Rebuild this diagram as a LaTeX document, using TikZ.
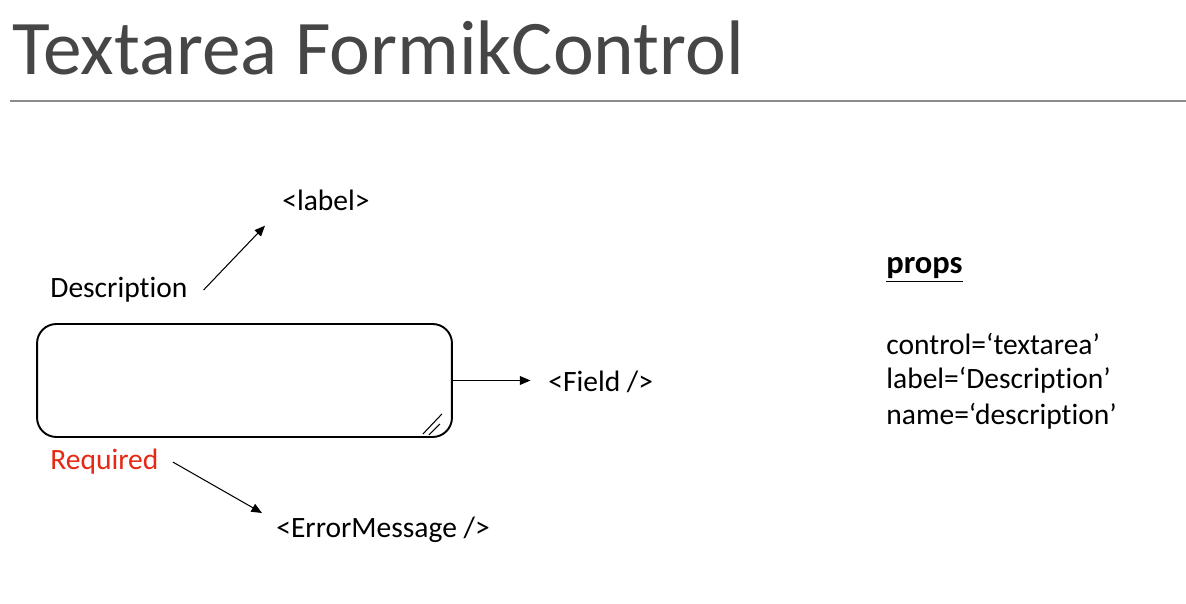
\documentclass[tikz,border=0pt]{standalone}
\usepackage{fontspec}
\setmainfont{Carlito}[Ligatures=NoCommon]
\usetikzlibrary{arrows.meta}

\definecolor{titlegray}{RGB}{70,70,70}
\definecolor{rulegray}{RGB}{140,140,140}
\definecolor{reqred}{RGB}{230,40,20}

\begin{document}
\begin{tikzpicture}[
        x=0.02cm, y=-0.02cm,
        txt/.style={anchor=west, inner sep=0pt, font=\fontsize{16.8}{20}\selectfont},
        field/.style={rectangle, draw, line width=1.1pt, rounded corners=11pt, minimum width=8.3cm, minimum height=2.26cm},
        arrow/.style={-{Triangle[length=6pt,width=5pt]}, semithick}
    ]
        \useasboundingbox (0,0) rectangle (1186,604);

        % Title
        \node[anchor=base west, inner sep=0pt, text=titlegray, font=\fontsize{44}{48}\selectfont] (title) at (12,75) {Textarea FormikControl};
        \coordinate (ruleL) at (10,101);
        \coordinate (ruleR) at (1186,101);
        \draw[rulegray, thick] (ruleL) -- (ruleR);

        % Textarea
        \node[field] (box) at (244.5,380.5) {};
        \draw[semithick] ([shift={(-30,-4)}]box.south east) -- ([shift={(-11,-24)}]box.south east);
        \draw[semithick] ([shift={(-24,-3)}]box.south east) -- ([shift={(-13,-14)}]box.south east);

        % Labels
        \node[txt] (desc) at (50,290) {Description};
        \node[txt] (label) at (282,200) {<label>};
        \node[txt] (fieldtag) at (548,382) {<Field />};
        \node[txt, text=reqred] (req) at (50,462) {Required};
        \node[txt] (err) at (276,530) {<ErrorMessage />};

        % Props
        \node[txt, font=\fontsize{18.5}{22}\selectfont\bfseries] (props) at (886,270) {\underline{props}};
        \node[txt] (p1) at (886,344) {control=‘textarea’};
        \node[txt] (p2) at (886,380) {label=‘Description’};
        \node[txt] (p3) at (886,416) {name=‘description’};

        % Arrows
        \draw[arrow] ([xshift=15\pgflinewidth]desc.east) -- ([shift={(-17,15)}]label.south west);
        \draw[arrow] (box.east) -- ([xshift=-10]fieldtag.west |- box.east);
        \draw[arrow] ([shift={(14,0)}]req.east) -- ([shift={(-14,-17)}]err.west);
    \end{tikzpicture}
\end{document}
